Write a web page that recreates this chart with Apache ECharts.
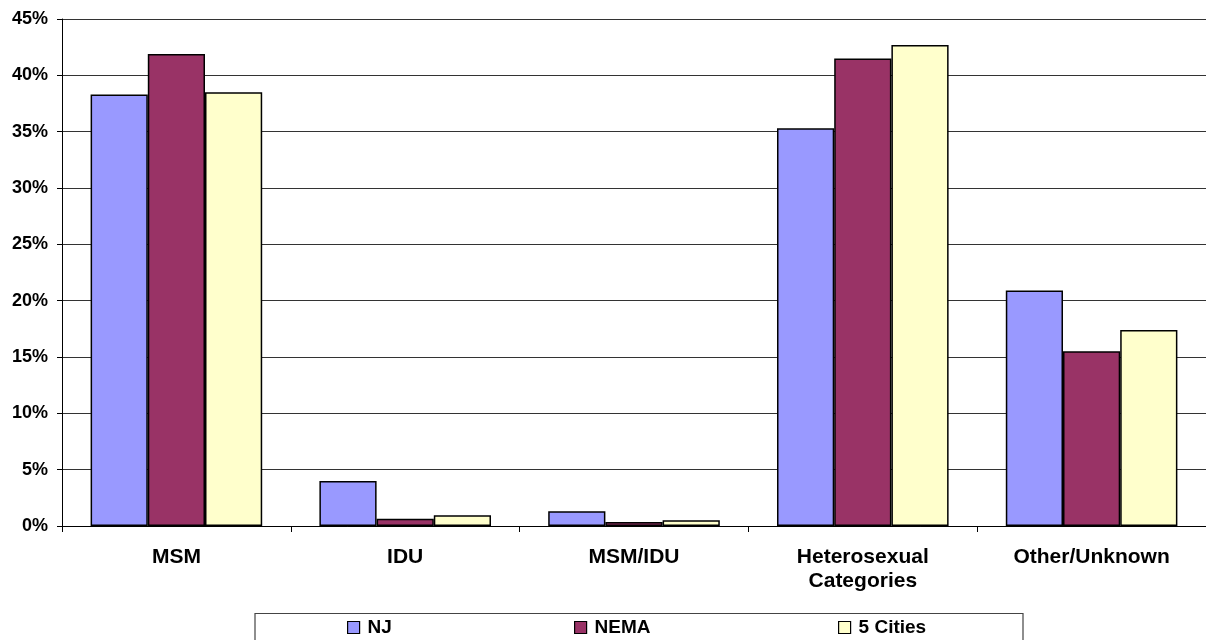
<!DOCTYPE html>
<html>
<head>
<meta charset="utf-8">
<script src="https://cdn.jsdelivr.net/npm/echarts@6/dist/echarts.min.js"></script>
<style>html,body{margin:0;padding:0;background:#fff;}#c{width:1206px;height:640px;}</style>
</head>
<body>
<div id="c"></div>
<script>
const categories = ['MSM', 'IDU', 'MSM/IDU', 'Heterosexual\nCategories', 'Other/Unknown'];
const seriesNames = ['NJ', 'NEMA', '5 Cities'];
const njValues = [38.3, 4.0, 1.3, 35.3, 20.9];
const nemaValues = [41.9, 0.65, 0.35, 41.5, 15.5];
const citiesValues = [38.5, 0.95, 0.5, 42.7, 17.4];
const colors = ['#9999FF', '#993366', '#FFFFCC'];

const chart = echarts.init(document.getElementById('c'));
const font = 'Liberation Sans, Arial, sans-serif';
const data = [njValues, nemaValues, citiesValues];

function legendAt(name, left) {
  return {
    data: [name], left: left, top: 618, padding: 0,
    itemWidth: 12, itemHeight: 12, icon: 'rect',
    itemStyle: { borderColor: '#000', borderWidth: 1.2 },
    textStyle: { fontFamily: font, fontWeight: 'bold', fontSize: 19, color: '#000', padding: [0, 0, 0, 3] }
  };
}

chart.setOption({
  animation: false,
  backgroundColor: '#fff',
  grid: { left: 62, top: 19, width: 1150, height: 507 },
  legend: [legendAt('NJ', 347), legendAt('NEMA', 574), legendAt('5 Cities', 838)],
  graphic: [{
    type: 'rect', shape: { x: 255, y: 613.5, width: 768, height: 40 },
    style: { fill: 'none', stroke: '#444', lineWidth: 1.2 }, z: -1
  }],
  xAxis: {
    type: 'category', data: categories, boundaryGap: true,
    axisLine: { lineStyle: { color: '#000', width: 1 } },
    axisTick: { show: true, length: 6, lineStyle: { color: '#000' } },
    axisLabel: { fontFamily: font, fontWeight: 'bold', fontSize: 21, color: '#000', margin: 19, lineHeight: 24, interval: 0 }
  },
  yAxis: {
    type: 'value', min: 0, max: 45, interval: 5,
    axisLine: { show: true, lineStyle: { color: '#000', width: 1 } },
    axisTick: { show: true, length: 5, lineStyle: { color: '#000' } },
    splitLine: { show: true, lineStyle: { color: '#333', width: 1 } },
    axisLabel: { formatter: '{value}%', fontFamily: font, fontWeight: 'bold', fontSize: 18, color: '#000', margin: 14 }
  },
  series: seriesNames.map((n, i) => ({
    name: n, type: 'bar', data: data[i],
    barGap: '0%', barCategoryGap: '25%',
    itemStyle: { color: colors[i], borderColor: '#000', borderWidth: 1.5 }
  }))
});
</script>
</body>
</html>
